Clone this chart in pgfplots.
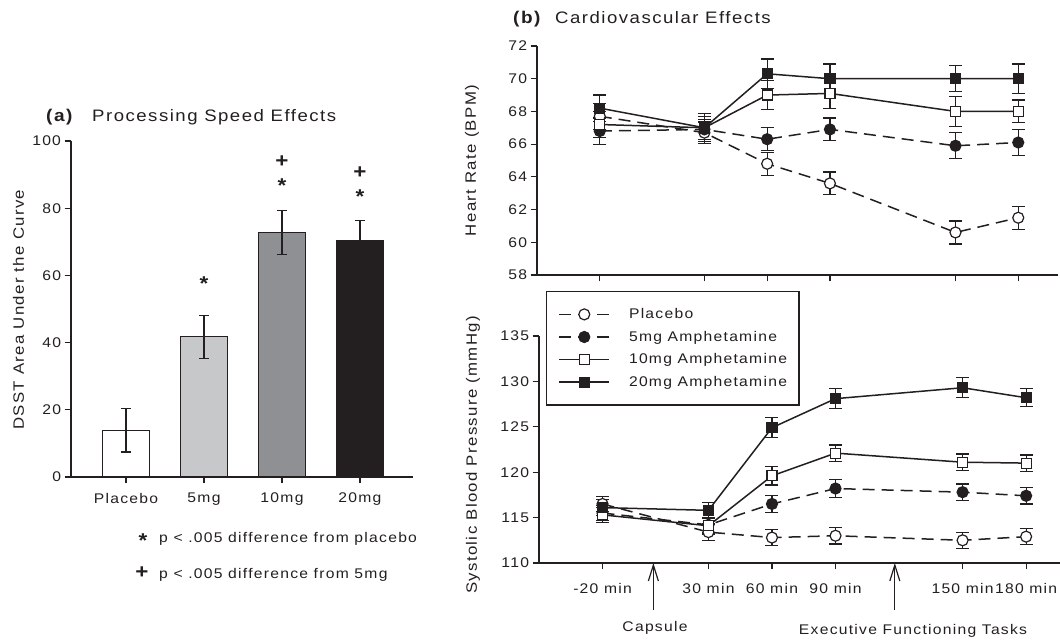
\documentclass[border=0pt]{standalone}
\usepackage{pgfplots}
\pgfplotsset{compat=1.18}
\usepackage{fontspec}
\setmainfont[LetterSpace=9,FakeStretch=1.12]{Liberation Sans}
\usetikzlibrary{arrows.meta}
\definecolor{ink}{HTML}{231F20}
\definecolor{barlight}{HTML}{C7C8CA}
\definecolor{barmid}{HTML}{8F9094}
\definecolor{bardark}{HTML}{231F20}

\pgfplotsset{
  panel/.style={
    scale only axis, clip=false,
    axis x line*=bottom, axis y line*=left,
    axis line style={line width=1.2bp, draw=ink, -},
    tick align=outside, major tick length=6.5bp,
    tick style={line width=1.2bp, draw=ink},
    tick label style={font=\fontsize{14bp}{16bp}\selectfont, text=ink},
    label style={font=\fontsize{15bp}{18bp}\selectfont, text=ink},
    /pgf/number format/assume math mode=true,
  },
  ebar/.style={error bars/.cd, y dir=both, y explicit,
     error bar style={solid, line width=1.2bp, draw=ink},
     error mark options={rotate=90, mark size=6.5bp, line width=1.2bp, draw=ink, solid}},
  ebarsmall/.style={error bars/.cd, y dir=both, y explicit,
     error bar style={solid, line width=1.2bp, draw=ink},
     error mark options={rotate=90, mark size=5bp, line width=1.2bp, draw=ink, solid}},
  sPlacebo/.style={draw=ink, line width=1.5bp, dash pattern=on 12bp off 7bp, mark=*, mark size=5.5bp,
     mark options={solid, fill=white, draw=ink, line width=1.2bp}, ebar},
  sFive/.style={draw=ink, line width=1.5bp, dash pattern=on 12bp off 7bp, mark=*, mark size=5.5bp,
     mark options={solid, fill=ink, draw=ink, line width=1.2bp}, ebar},
  sTen/.style={draw=ink, line width=1.5bp, solid, mark=square*, mark size=5bp,
     mark options={solid, fill=white, draw=ink, line width=1.2bp}, ebar},
  sTwenty/.style={draw=ink, line width=1.5bp, solid, mark=square*, mark size=5bp,
     mark options={solid, fill=ink, draw=ink, line width=1.2bp}, ebar},
}

\begin{document}
\begin{tikzpicture}[x=1bp,y=1bp]

% ---------------- (a) bar chart ----------------
\begin{axis}[panel, at={(71bp,164bp)}, anchor=south west, width=342bp, height=336bp,
  xmin=-0.705, xmax=3.68, ymin=0, ymax=100, ytick={0,20,...,100},
  xtick={0,1,2,3}, xticklabels={Placebo,5mg,10mg,20mg},
  xticklabel style={yshift=-6bp},
  ylabel={DSST Area Under the Curve},
  ylabel style={at={(axis description cs:-0.1535,0.498)}, anchor=center},
  ybar, bar width=47bp, bar shift=0pt]
\addplot[fill=white, draw=ink, line width=1.2bp, ebarsmall] coordinates {(0,13.9) +- (0,6.45)};
\addplot[fill=barlight, draw=ink, line width=1.2bp, ebarsmall] coordinates {(1,41.7) +- (0,6.45)};
\addplot[fill=barmid, draw=ink, line width=1.2bp, ebarsmall] coordinates {(2,72.7) +- (0,6.55)};
\addplot[fill=bardark, draw=ink, line width=1.2bp, ebarsmall] coordinates {(3,70.5) +- (0,5.8)};
\node[font=\fontsize{20bp}{20bp}\selectfont\bfseries, text=ink] at (axis cs:1,57.5) {*};
\node[font=\fontsize{20bp}{20bp}\selectfont\bfseries, text=ink] at (axis cs:2,86.8) {*};
\node[font=\fontsize{20bp}{20bp}\selectfont\bfseries, text=ink] at (axis cs:2,94.0) {+};
\node[font=\fontsize{20bp}{20bp}\selectfont\bfseries, text=ink] at (axis cs:3,83.5) {*};
\node[font=\fontsize{20bp}{20bp}\selectfont\bfseries, text=ink] at (axis cs:3,90.6) {+};
\end{axis}

% ---------------- (b) heart rate ----------------
\begin{axis}[panel, at={(537bp,366bp)}, anchor=south west, width=521bp, height=229bp,
  xmin=-50, xmax=199, ymin=58, ymax=72, ytick={58,60,...,72},
  xtick={-20,30,60,90,150,180}, xticklabels={},
  ylabel={Heart Rate (BPM)},
  ylabel style={at={(axis description cs:-0.125,0.5)}, anchor=center}]
\addplot[sPlacebo] coordinates {(-20,67.7) +- (0,0.8) (30,66.7) +- (0,0.65) (60,64.8) +- (0,0.7) (90,63.6) +- (0,0.7) (150,60.6) +- (0,0.7) (180,61.5) +- (0,0.7)};
\addplot[sFive] coordinates {(-20,66.8) +- (0,0.8) (30,66.9) +- (0,0.6) (60,66.3) +- (0,0.7) (90,66.9) +- (0,0.7) (150,65.9) +- (0,0.8) (180,66.1) +- (0,0.8)};
\addplot[sTen] coordinates {(-20,67.2) +- (0,0.8) (30,67.0) +- (0,0.7) (60,69.0) +- (0,0.9) (90,69.1) +- (0,0.9) (150,68.0) +- (0,0.9) (180,68.0) +- (0,0.7)};
\addplot[sTwenty] coordinates {(-20,68.2) +- (0,0.8) (30,67.0) +- (0,0.85) (60,70.3) +- (0,0.9) (90,70.0) +- (0,0.9) (150,70.0) +- (0,0.8) (180,70.0) +- (0,0.9)};
\end{axis}

% ---------------- (b) blood pressure ----------------
\begin{axis}[panel, at={(539bp,78bp)}, anchor=south west, width=521bp, height=227bp,
  xmin=-50, xmax=196, ymin=110, ymax=135, ytick={110,115,...,135},
  xtick={-20,30,60,90,150,180},
  xticklabels={-20 min,30 min,60 min,90 min,150 min,180 min},
  xticklabel style={yshift=-10bp},
  ylabel={Systolic Blood Pressure (mmHg)},
  ylabel style={at={(axis description cs:-0.1267,0.476)}, anchor=center},
  legend image code/.code={\draw[mark repeat=2,mark phase=2,#1] plot coordinates {(0bp,0bp) (25bp,0bp) (50bp,0bp)};},
  legend style={at={(axis description cs:0.0134,1.198)}, anchor=north west,
     draw=ink, line width=1.1bp, inner xsep=12bp, inner ysep=11.5bp,
     font=\fontsize{14bp}{16bp}\selectfont, text=ink,
     nodes={inner xsep=0bp, inner ysep=0bp, minimum height=22.6bp},
     /tikz/every odd column/.append style={column sep=19bp}},
  legend cell align=left]
\addplot[sPlacebo] coordinates {(-20,116.5) +- (0,0.8) (30,113.4) +- (0,0.9) (60,112.8) +- (0,0.9) (90,113.0) +- (0,0.9) (150,112.5) +- (0,0.9) (180,112.9) +- (0,0.9)};
\addlegendentry{Placebo}
\addplot[sFive] coordinates {(-20,115.5) +- (0,0.8) (30,114.2) +- (0,0.8) (60,116.5) +- (0,0.9) (90,118.2) +- (0,1.0) (150,117.8) +- (0,0.9) (180,117.4) +- (0,0.9)};
\addlegendentry{5mg Amphetamine}
\addplot[sTen] coordinates {(-20,115.3) +- (0,0.8) (30,114.1) +- (0,0.9) (60,119.6) +- (0,1.0) (90,122.1) +- (0,0.9) (150,121.1) +- (0,0.9) (180,121.0) +- (0,0.9)};
\addlegendentry{10mg Amphetamine}
\addplot[sTwenty] coordinates {(-20,116.1) +- (0,0.9) (30,115.8) +- (0,0.9) (60,124.9) +- (0,1.1) (90,128.1) +- (0,1.1) (150,129.3) +- (0,1.1) (180,128.2) +- (0,1.0)};
\addlegendentry{20mg Amphetamine}
\draw[line width=1.2bp, draw=ink, -{Straight Barb[length=16bp,width=10bp,line width=1.2bp]}] (axis cs:4,104.8) -- (axis cs:4,110);
\draw[line width=1.2bp, draw=ink, -{Straight Barb[length=16bp,width=10bp,line width=1.2bp]}] (axis cs:118,104.8) -- (axis cs:118,110);
\end{axis}

% ---------------- titles and notes ----------------
\node[anchor=base west, font=\fontsize{17bp}{20bp}\selectfont\bfseries, text=ink, inner sep=0pt] at (46,519) {(a)};
\node[anchor=base west, font=\fontsize{16.6bp}{18bp}\selectfont, text=ink, inner sep=0pt] at (92,519) {Processing Speed Effects};
\node[anchor=base west, font=\fontsize{17bp}{20bp}\selectfont\bfseries, text=ink, inner sep=0pt] at (513,617) {(b)};
\node[anchor=base west, font=\fontsize{16.6bp}{18bp}\selectfont, text=ink, inner sep=0pt] at (555,617) {Cardiovascular Effects};

\node[font=\fontsize{20bp}{20bp}\selectfont\bfseries, text=ink] at (143,100) {*};
\node[anchor=base west, font=\fontsize{14bp}{16bp}\selectfont, text=ink, inner sep=0pt] at (159,98) {p < .005 difference from placebo};
\node[font=\fontsize{20bp}{20bp}\selectfont\bfseries, text=ink] at (142,68) {+};
\node[anchor=base west, font=\fontsize{14bp}{16bp}\selectfont, text=ink, inner sep=0pt] at (159,62) {p < .005 difference from 5mg};

\node[anchor=base, font=\fontsize{14bp}{16bp}\selectfont, text=ink, inner sep=0pt] at (655,9) {Capsule};
\node[anchor=base, font=\fontsize{14bp}{16bp}\selectfont, text=ink, inner sep=0pt] at (913,6) {Executive Functioning Tasks};

\pgfresetboundingbox
\path[use as bounding box] (0,0) rectangle (1060,641);
\end{tikzpicture}
\end{document}
